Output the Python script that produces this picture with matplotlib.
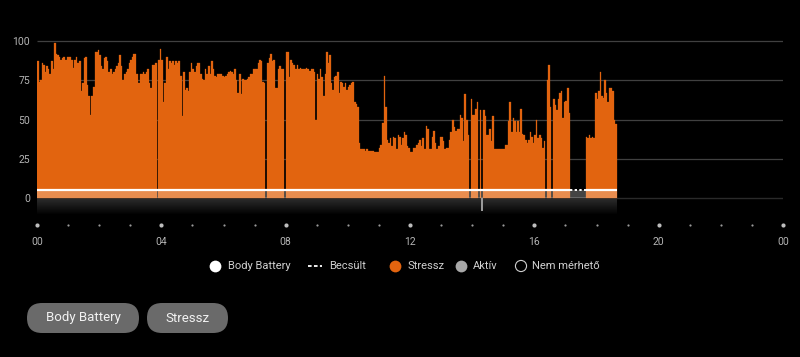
import numpy as np
import matplotlib
matplotlib.use('Agg')
import matplotlib.pyplot as plt
from matplotlib.patches import FancyBboxPatch
from matplotlib.colors import LinearSegmentedColormap

plt.rcParams['font.family'] = ['Roboto', 'DejaVu Sans']

nan = np.nan
# stress level, 3 minute slots, one row per hour (nan = no data)
h00 = [87, 74, 75, 86, 85, 80, 84, 82, 79, 87, 82, 99, 92, 91, 90, 88, 89, 90, 88, 90]
h01 = [90, 90, 88, 83, 88, 90, 86, 87, 68, 73, 89, 90, 72, 65, 53, 65, 71, 93, 93, 94]
h02 = [91, 84, 82, 89, 90, 87, 80, 82, 79, 80, 82, 84, 86, 91, 84, 75, 79, 80, 82, 86]
h03 = [88, 90, 92, 92, 79, 73, 79, 79, 80, 79, 80, 82, 73, 70, 85, 85, 86, nan, 88, 95]
h04 = [88, 61, 73, 90, 82, 87, 86, 87, 85, 87, 86, 87, 78, 52, 80, 69, 70, 68, 80, 86]
h05 = [82, 80, 84, 86, 86, 79, 76, 75, 82, 79, 84, 79, 87, 82, 78, 77, 79, 79, 79, 78]
h06 = [77, 78, 79, 80, 81, 80, 79, 82, 75, 67, 79, 66, 76, 75, 75, 76, 77, 79, 79, 82]
h07 = [82, 82, 86, 88, 87, 74, 73, nan, 86, 89, 92, 87, 88, 70, 70, 82, 84, 82, 82, nan]
h08 = [93, 93, 77, 88, 86, 85, 82, 85, 82, 83, 82, 82, 82, 83, 82, 81, 82, 82, 80, 50]
h09 = [79, 76, 82, 77, 65, 79, 93, 86, 91, 73, 69, 77, 78, 80, 67, 74, 73, 71, 73, 69]
h10 = [71, 72, 73, 74, 61, 60, 58, 35, 31, 31, 31, 30, 31, 30, 30, 30, 30, 29, 29, 29]
h11 = [32, 34, 48, 78, 58, 37, 35, 38, 33, 39, 38, 31, 40, 39, 34, 38, 42, 40, 33, 32]
h12 = [29, 29, 32, 32, 34, 35, 37, 33, 38, 31, 46, 44, 31, 31, 39, 43, 35, 31, 33, 39]
h13 = [39, 36, 31, 32, 32, 37, 42, 50, 45, 43, 44, 44, 53, 51, 36, 66, 50, 40, nan, 63]
h14 = [53, 53, 57, 61, nan, 56, nan, 56, 52, 40, 40, 44, 36, 52, 31, 31, 31, 31, 31, 31]
h15 = [31, 34, 34, 49, 61, 42, 51, 49, 42, 49, 42, 57, 41, 40, 37, 35, 37, 42, 39, 35]
h16 = [40, 50, 38, 40, 38, 32, 36, nan, 75, 85, 58, nan, 63, 59, 56, 63, 67, 68, 51, 61]
h17 = [62, 70, 54, nan, nan, nan, nan, nan, nan, nan, nan, nan, nan, 39, 38, 40, 38, 39, 38, 67]
h18 = [63, 68, 80, 65, 64, 75, 67, 61, 70, 70, 68, 50, 47]

body_battery = 5
est_start, est_end = 17.15, 17.65   # Becsült (estimated)
active_hours = [14.30]
active_values = [-8]

y_ticks = [0, 25, 50, 75, 100]
x_labels = ['00', '04', '08', '12', '16', '20', '00']

stress = np.array(h00 + h01 + h02 + h03 + h04 + h05 + h06 + h07 + h08 + h09 + h10
                  + h11 + h12 + h13 + h14 + h15 + h16 + h17 + h18, dtype=float)
slot = 3 / 60
hours = np.arange(len(stress)) * slot
day_end = len(stress) * slot
ok = ~np.isnan(stress)
orange = '#E2640F'

fig = plt.figure(figsize=(8, 3.57), dpi=100, facecolor='black')
ax = fig.add_axes([37 / 800, 1 - 250 / 357, 746 / 800, 217 / 357])
ax.set_facecolor('black')

ax.hlines(y_ticks[1:], 0, 24, color='#404040', lw=0.9, zorder=0)
ax.hlines(0, 0, 24, color='#2a2a2a', lw=1, zorder=0)

# dark fade below zero
cmap = LinearSegmentedColormap.from_list('fade', ['#303030', '#000000'])
ax.imshow(np.linspace(0, 1, 60).reshape(-1, 1), extent=[0, day_end, -11, 0],
          aspect='auto', cmap=cmap, origin='upper', zorder=1)

ax.bar(hours[ok], stress[ok], width=slot, align='edge', color=orange,
       edgecolor=orange, lw=0.2, zorder=2)
ax.fill_between([0, day_end], 0, body_battery, color='white', alpha=0.27, lw=0, zorder=3)
ax.hlines(body_battery, 0, est_start, color='white', lw=1.6, zorder=4)
ax.hlines(body_battery, est_end, day_end, color='white', lw=1.6, zorder=4)
ax.plot([est_start, est_end], [body_battery, body_battery], color='white', lw=1.4,
        ls=(0, (1.2, 1.2)), zorder=4)
ax.bar(active_hours, active_values, width=0.035, align='edge', color='#9a9a9a', lw=0, zorder=4)

ax.set_xlim(0, 24)
ax.set_ylim(-33.1, 105.1)
ax.set_yticks(y_ticks)
ax.tick_params(axis='y', length=0, pad=5, labelsize=7.5, labelcolor='#b4b4b4')
ax.set_xticks([])
for s in ax.spines.values():
    s.set_visible(False)

# hour dots and labels
for h in range(25):
    big = h % 4 == 0
    ax.scatter(h, -17.2, s=9 if big else 2.5, color='#bdbdbd' if big else '#9a9a9a',
               lw=0, clip_on=False, zorder=5)
for i, lab in enumerate(x_labels):
    ax.text(i * 4, -28, lab, ha='center', va='center', fontsize=7.5, color='#b4b4b4')

# legend and buttons in pixel space
ov = fig.add_axes([0, 0, 1, 1])
ov.set_xlim(0, 800)
ov.set_ylim(357, 0)
ov.axis('off')
ov.patch.set_alpha(0)

ly = 266
txt = dict(fontsize=8, color='#d0d0d0', va='center', ha='left')
ov.scatter(215, ly, s=72, color='white', lw=0)
ov.text(228, ly, 'Body Battery', **txt)
ov.plot([308, 322], [ly, ly], color='white', lw=1.3, ls=(0, (2, 1.3)))
ov.text(329, ly, 'Becsült', **txt)
ov.scatter(395, ly, s=72, color=orange, lw=0)
ov.text(408, ly, 'Stressz', **txt)
ov.scatter(461, ly, s=72, color='#a8a8a8', lw=0)
ov.text(473, ly, 'Aktív', **txt)
ov.scatter(521, ly, s=64, facecolor='none', edgecolor='#cfcfcf', lw=0.8)
ov.text(532, ly, 'Nem mérhető', **txt)

for x0, w, lab in [(27, 112, 'Body Battery'), (147, 81, 'Stressz')]:
    ov.add_patch(FancyBboxPatch((x0, 303), w, 30, boxstyle='round,pad=0,rounding_size=15',
                                fc='#6a6a6a', ec='none'))
    ov.text(x0 + w / 2, 318, lab, ha='center', va='center', fontsize=9.5, color='#f2f2f2')

fig.savefig('out.png', dpi=100, facecolor='black')
